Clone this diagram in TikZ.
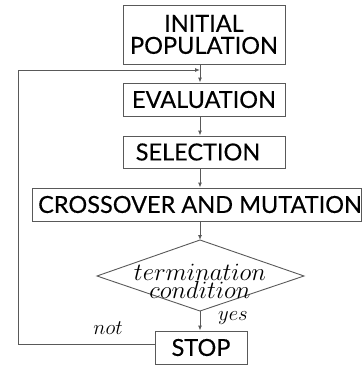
\documentclass[tikz,border=0pt]{standalone}
\usepackage{fontspec}
\setmainfont{Lato}
\newfontfamily\boxfont{Lato}[FakeBold=0.3]
\usetikzlibrary{arrows.meta}
\begin{document}
\begin{tikzpicture}[x=1pt,y=-1pt,
  box/.style={draw=black!65, line width=0.9pt, inner sep=0pt, align=center,
              font=\boxfont\fontsize{23.5}{22}\selectfont},
  conn/.style={draw=black!65, line width=0.9pt},
  arr/.style={conn, -{Latex[length=5pt,width=4pt]}},
  lab/.style={inner sep=0pt, font=\fontsize{22.5}{22}\selectfont}]
\useasboundingbox (0,0) rectangle (362,367);
\coordinate (cx) at (200,0);
\node[box, minimum width=162pt, minimum height=59pt] (init) at (204,34.5) {INITIAL\\POPULATION};
\node[box, minimum width=162pt, minimum height=33pt] (eval) at (204,99.5) {EVALUATION};
\node[box, minimum width=162pt, minimum height=32pt] (sel) at (204,152) {SELECTION\hspace*{12pt}};
\node[box, minimum width=329pt, minimum height=33pt] (cross) at (196.5,204.5) {};
\node[inner sep=0pt, font=\boxfont\fontsize{23.5}{22}\selectfont] (crosstext) at (200,204.5) {CROSSOVER AND MUTATION};
\coordinate (dt) at (200,240);
\coordinate (db) at (200,311);
\coordinate (dl) at (97,276);
\coordinate (dr) at (304,276);
\draw[conn] (dl) -- (dt) -- (dr) -- (db) -- cycle;
\node[lab, align=center, font=\fontsize{23}{17}\selectfont] (cond) at (200,281) {$termination$\\$condition$};
\node[box, minimum width=92pt, minimum height=33pt] (stop) at (201,347.5) {STOP};
\node[lab] (yes) at (233,318) {$yes$};
\node[lab] (not) at (108,328) {$not$};
\coordinate (bl) at (18,344);
\coordinate (tl) at (18,70);
\draw[arr] (init.south -| cx) -- (eval.north -| cx);
\draw[arr] (eval.south -| cx) -- (sel.north -| cx);
\draw[arr] (sel.south -| cx) -- (cross.north -| cx);
\draw[arr] (cross.south -| cx) -- (dt);
\draw[arr] (db) -- (stop.north -| cx);
\draw[arr] (stop.west |- bl) -- (bl) -- (tl) -- (tl -| cx);
\end{tikzpicture}
\end{document}
